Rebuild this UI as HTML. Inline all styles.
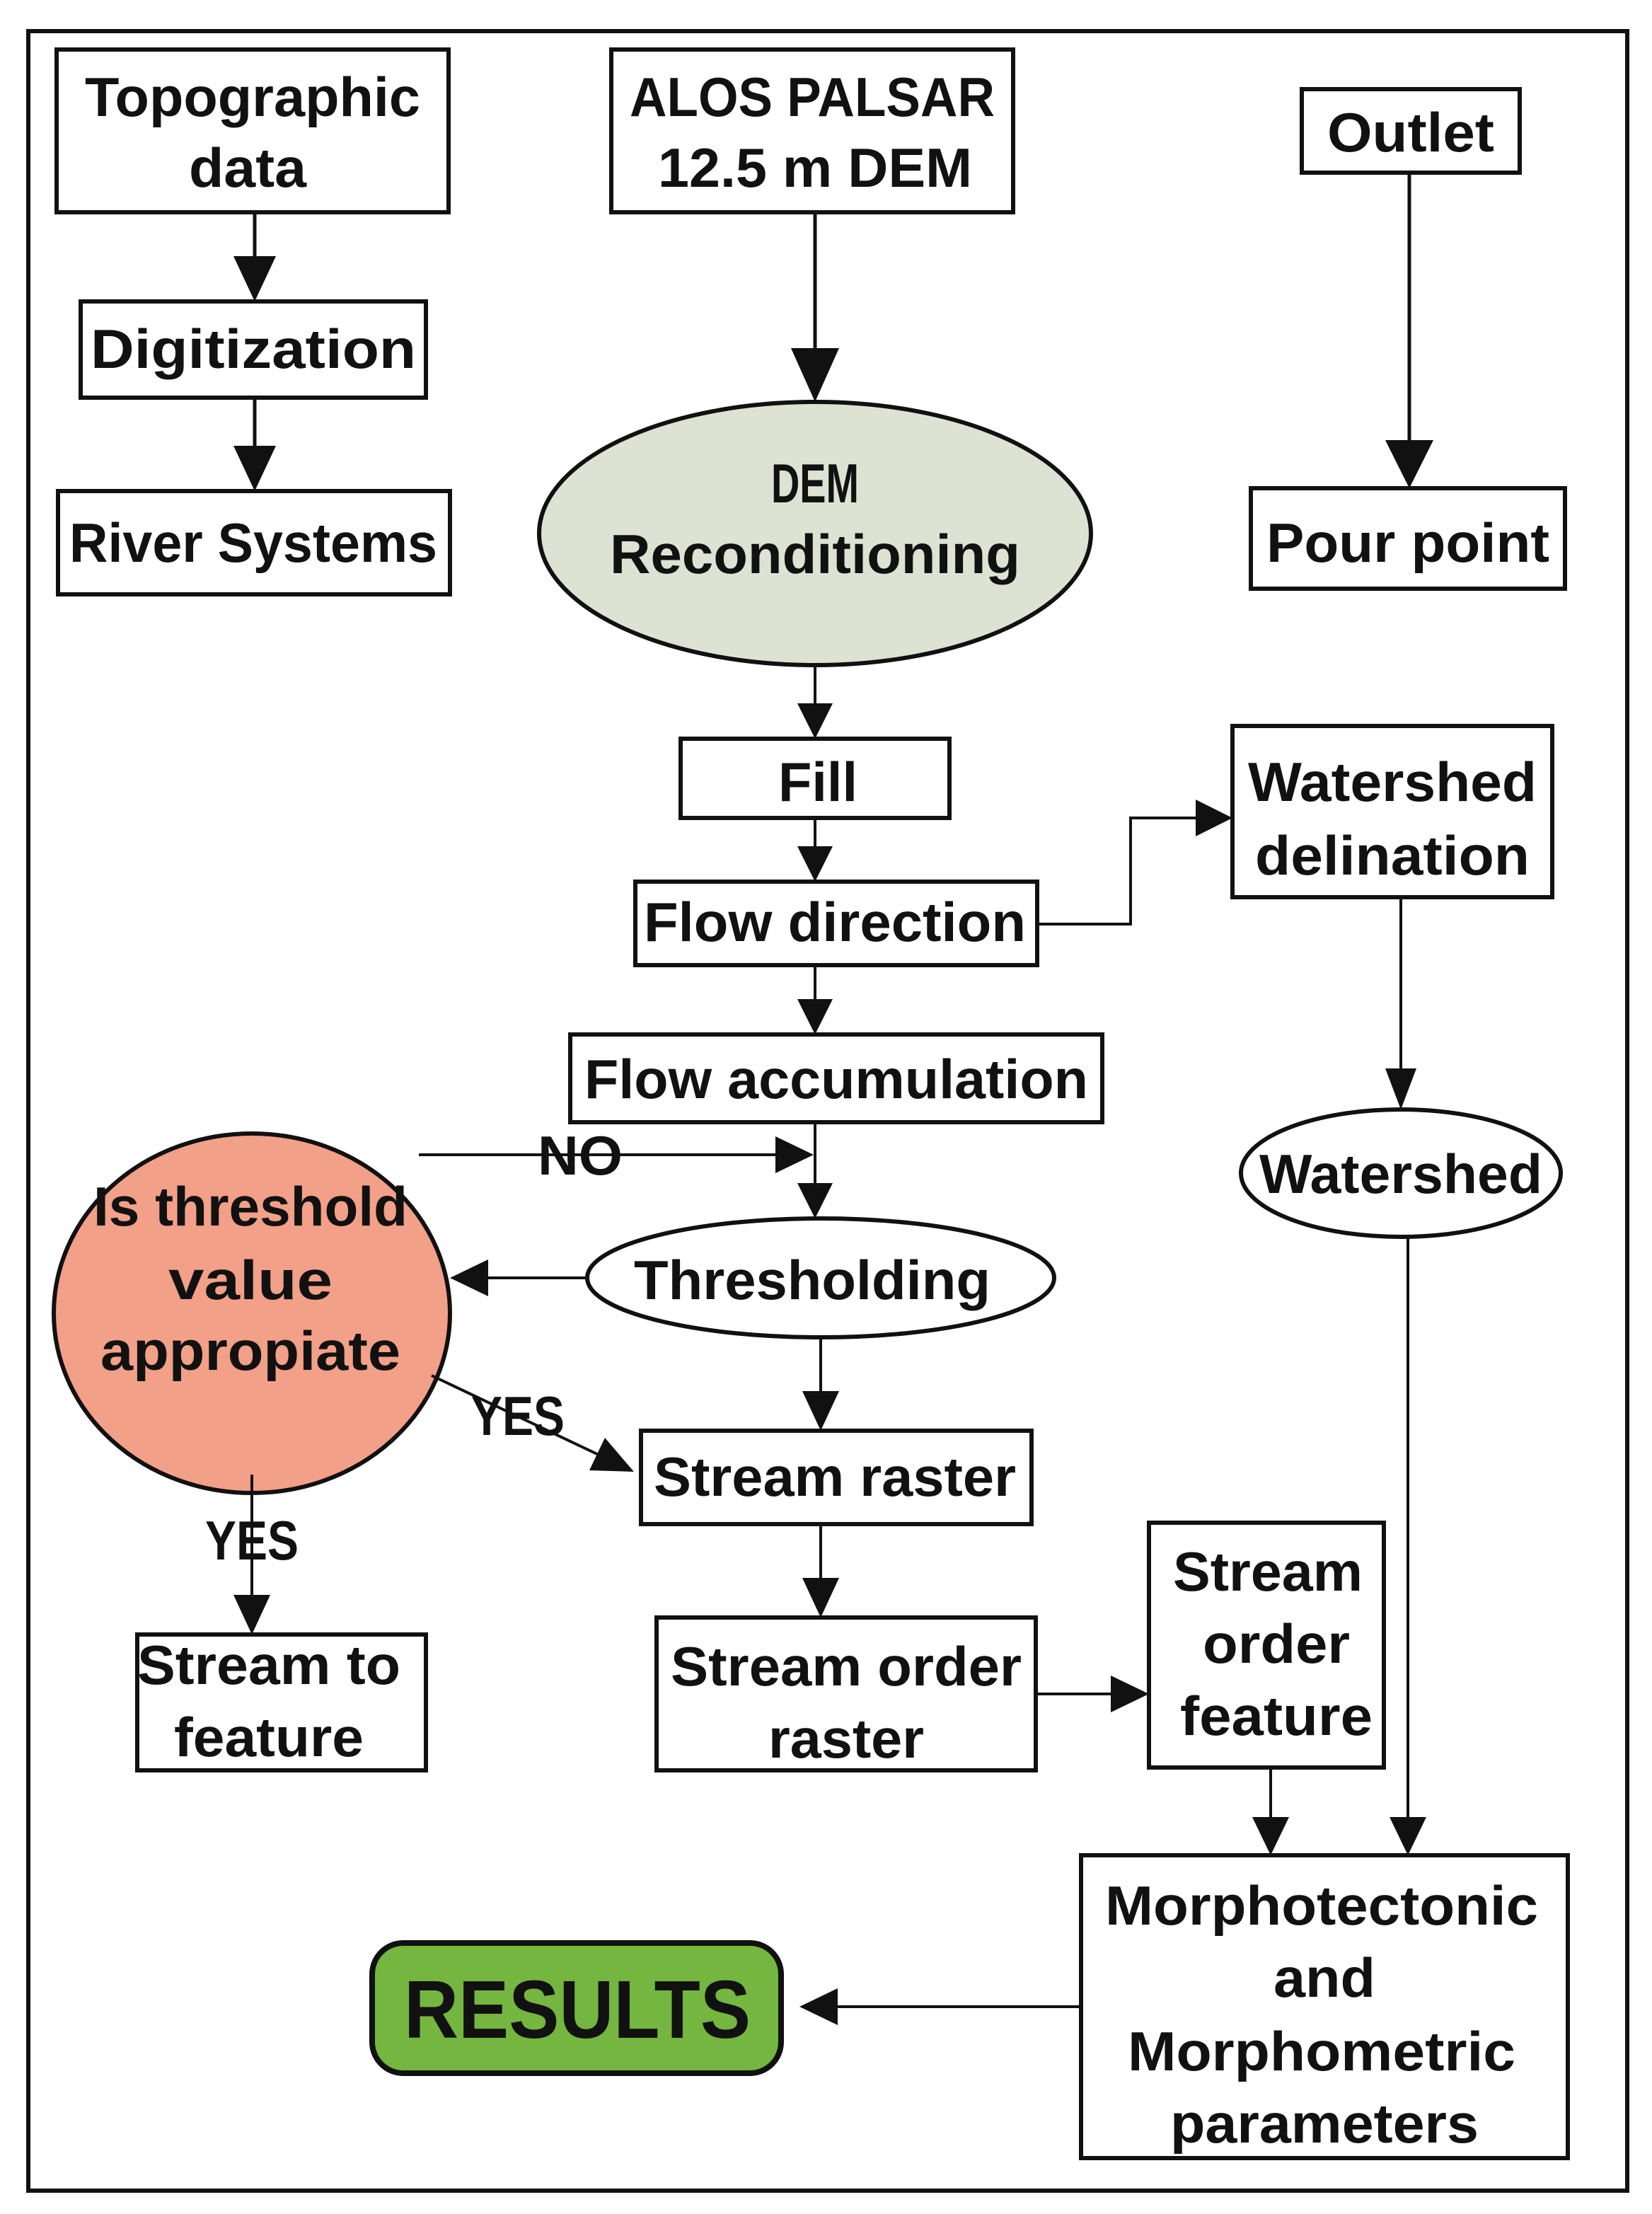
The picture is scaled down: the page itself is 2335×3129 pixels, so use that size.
<!DOCTYPE html>
<html><head><meta charset="utf-8"><style>
html,body{margin:0;padding:0;background:#fff;}
svg{display:block;}
text{font-family:"Liberation Sans",sans-serif;font-weight:bold;fill:#111;text-anchor:middle;}
</style></head><body>
<svg width="2335" height="3129" viewBox="0 0 2335 3129" xmlns="http://www.w3.org/2000/svg">
<rect x="0" y="0" width="2335" height="3129" fill="#fff"/>
<rect x="40" y="44" width="2260" height="3052" fill="none" stroke="#111" stroke-width="6"/>
<g fill="#fff" stroke="#111" stroke-width="6">
<rect x="80" y="70" width="554" height="230"/>
<rect x="864" y="70" width="568" height="230"/>
<rect x="1840" y="126" width="308" height="118"/>
<rect x="114" y="426" width="488" height="136"/>
<rect x="82" y="694" width="554" height="146"/>
<ellipse cx="1152" cy="754" rx="390" ry="186" fill="#dde2d2"/>
<rect x="1768" y="690" width="444" height="142"/>
<rect x="962" y="1044" width="380" height="112"/>
<rect x="1742" y="1026" width="452" height="242"/>
<rect x="898" y="1246" width="568" height="118"/>
<rect x="806" y="1462" width="752" height="124"/>
<ellipse cx="1980" cy="1658" rx="226" ry="90"/>
<ellipse cx="356" cy="1856" rx="280" ry="254" fill="#f2a088"/>
<ellipse cx="1160" cy="1806" rx="330" ry="84"/>
<rect x="906" y="2022" width="552" height="132"/>
<rect x="194" y="2310" width="408" height="192"/>
<rect x="928" y="2286" width="536" height="216"/>
<rect x="1624" y="2152" width="332" height="346"/>
<rect x="1528" y="2622" width="688" height="428"/>
<rect x="526" y="2746" width="578" height="184" rx="44" fill="#74b63f" stroke-width="8"/>
</g>
<g fill="none" stroke="#111" stroke-width="5">
<line x1="360" y1="300" x2="360" y2="362"/>
<line x1="360" y1="562" x2="360" y2="630"/>
<line x1="1152" y1="300" x2="1152" y2="492"/>
<line x1="1992" y1="244" x2="1992" y2="622"/>
</g>
<g fill="none" stroke="#111" stroke-width="4">
<line x1="1152" y1="940" x2="1152" y2="994"/>
<line x1="1152" y1="1156" x2="1152" y2="1196"/>
<line x1="1152" y1="1364" x2="1152" y2="1412"/>
<line x1="1152" y1="1586" x2="1152" y2="1672"/>
<polyline points="1466,1306 1598,1306 1598,1156 1690,1156"/>
<line x1="1980" y1="1268" x2="1980" y2="1510"/>
<line x1="592" y1="1632" x2="1096" y2="1632"/>
<line x1="830" y1="1806" x2="690" y2="1806"/>
<line x1="1160" y1="1890" x2="1160" y2="1966"/>
<line x1="610" y1="1944" x2="844" y2="2055"/>
<line x1="356" y1="2084" x2="356" y2="2254"/>
<line x1="1160" y1="2154" x2="1160" y2="2230"/>
<line x1="1464" y1="2394" x2="1570" y2="2394"/>
<line x1="1796" y1="2498" x2="1796" y2="2568"/>
<line x1="1990" y1="1748" x2="1990" y2="2568"/>
<line x1="1528" y1="2836" x2="1184" y2="2836"/>
</g>
<g fill="#111">
<polygon points="330,362 390,362 360,426"/>
<polygon points="330,630 390,630 360,694"/>
<polygon points="1118,492 1186,492 1152,568"/>
<polygon points="1958,622 2026,622 1992,690"/>
<polygon points="1127,994 1177,994 1152,1044"/>
<polygon points="1127,1196 1177,1196 1152,1246"/>
<polygon points="1127,1412 1177,1412 1152,1462"/>
<polygon points="1127,1672 1177,1672 1152,1722"/>
<polygon points="1690,1130 1690,1182 1742,1156"/>
<polygon points="1958,1510 2002,1510 1980,1568"/>
<polygon points="1096,1606 1096,1658 1150,1632"/>
<polygon points="690,1780 690,1832 636,1806"/>
<polygon points="1134,1966 1186,1966 1160,2022"/>
<polygon points="833,2078 855,2032 896,2080"/>
<polygon points="330,2254 382,2254 356,2310"/>
<polygon points="1134,2230 1186,2230 1160,2286"/>
<polygon points="1570,2368 1570,2420 1624,2394"/>
<polygon points="1770,2568 1822,2568 1796,2622"/>
<polygon points="1964,2568 2016,2568 1990,2622"/>
<polygon points="1184,2810 1184,2862 1130,2836"/>
</g>
<g font-size="78">
<text x="357" y="164" textLength="474" lengthAdjust="spacingAndGlyphs">Topographic</text>
<text x="350" y="264" textLength="166" lengthAdjust="spacingAndGlyphs">data</text>
<text x="1148" y="164" textLength="516" lengthAdjust="spacingAndGlyphs">ALOS PALSAR</text>
<text x="1152" y="264" textLength="444" lengthAdjust="spacingAndGlyphs">12.5 m DEM</text>
<text x="1994" y="214" textLength="236" lengthAdjust="spacingAndGlyphs">Outlet</text>
<text x="358" y="520" textLength="460" lengthAdjust="spacingAndGlyphs">Digitization</text>
<text x="358" y="794" textLength="520" lengthAdjust="spacingAndGlyphs">River Systems</text>
<text x="1152" y="710" textLength="124" lengthAdjust="spacingAndGlyphs">DEM</text>
<text x="1152" y="810" textLength="580" lengthAdjust="spacingAndGlyphs">Reconditioning</text>
<text x="1990" y="794" textLength="400" lengthAdjust="spacingAndGlyphs">Pour point</text>
<text x="1156" y="1132" textLength="112" lengthAdjust="spacingAndGlyphs">Fill</text>
<text x="1968" y="1132" textLength="408" lengthAdjust="spacingAndGlyphs">Watershed</text>
<text x="1968" y="1236" textLength="388" lengthAdjust="spacingAndGlyphs">delination</text>
<text x="1180" y="1330" textLength="540" lengthAdjust="spacingAndGlyphs">Flow direction</text>
<text x="1182" y="1552" textLength="712" lengthAdjust="spacingAndGlyphs">Flow accumulation</text>
<text x="354" y="1732" textLength="444" lengthAdjust="spacingAndGlyphs">Is threshold</text>
<text x="354" y="1836" textLength="232" lengthAdjust="spacingAndGlyphs">value</text>
<text x="354" y="1936" textLength="424" lengthAdjust="spacingAndGlyphs">appropiate</text>
<text x="820" y="1660" textLength="120" lengthAdjust="spacingAndGlyphs">NO</text>
<text x="1980" y="1686" textLength="400" lengthAdjust="spacingAndGlyphs">Watershed</text>
<text x="1148" y="1836" textLength="504" lengthAdjust="spacingAndGlyphs">Thresholding</text>
<text x="732" y="2028" textLength="132" lengthAdjust="spacingAndGlyphs">YES</text>
<text x="356" y="2204" textLength="132" lengthAdjust="spacingAndGlyphs">YES</text>
<text x="1180" y="2114" textLength="512" lengthAdjust="spacingAndGlyphs">Stream raster</text>
<text x="380" y="2380" textLength="372" lengthAdjust="spacingAndGlyphs">Stream to</text>
<text x="380" y="2482" textLength="268" lengthAdjust="spacingAndGlyphs">feature</text>
<text x="1196" y="2382" textLength="496" lengthAdjust="spacingAndGlyphs">Stream order</text>
<text x="1196" y="2484" textLength="220" lengthAdjust="spacingAndGlyphs">raster</text>
<text x="1792" y="2248" textLength="268" lengthAdjust="spacingAndGlyphs">Stream</text>
<text x="1804" y="2350" textLength="208" lengthAdjust="spacingAndGlyphs">order</text>
<text x="1804" y="2452" textLength="272" lengthAdjust="spacingAndGlyphs">feature</text>
<text x="1868" y="2720" textLength="612" lengthAdjust="spacingAndGlyphs">Morphotectonic</text>
<text x="1872" y="2822" textLength="144" lengthAdjust="spacingAndGlyphs">and</text>
<text x="1868" y="2926" textLength="548" lengthAdjust="spacingAndGlyphs">Morphometric</text>
<text x="1872" y="3028" textLength="436" lengthAdjust="spacingAndGlyphs">parameters</text>
</g>
<text x="816" y="2880" font-size="116" textLength="490" lengthAdjust="spacingAndGlyphs">RESULTS</text>
</svg>
</body></html>
